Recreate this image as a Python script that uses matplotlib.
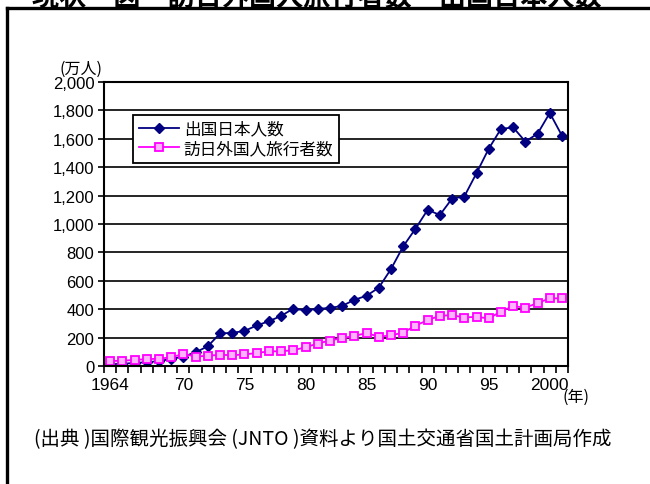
import matplotlib
matplotlib.use("Agg")
import matplotlib.pyplot as plt
from matplotlib.lines import Line2D
import numpy as np

plt.rcParams['font.family'] = ['Liberation Sans', 'Noto Sans CJK JP', 'DejaVu Sans']

# data (unit: 10,000 people)
years = list(range(1964, 2002))
outbound = [12.8, 15.9, 21.2, 26.8, 34.4, 49.3, 66.3, 96.1, 139.2, 228.9,
            233.6, 246.6, 285.3, 315.1, 352.6, 403.8, 390.9, 402.9, 408.6, 423.3,
            465.9, 494.8, 551.6, 682.9, 842.7, 966.3, 1099.7, 1063.4, 1179.1, 1193.4,
            1357.9, 1529.8, 1669.5, 1680.3, 1580.6, 1635.8, 1781.9, 1621.6]
inbound = [35.3, 36.7, 43.3, 47.7, 51.9, 60.9, 85.4, 66.0, 72.4, 78.5,
           76.4, 81.2, 91.5, 102.8, 103.8, 111.3, 131.7, 158.3, 179.3, 196.8,
           211.0, 232.7, 206.2, 215.5, 235.5, 283.5, 323.6, 353.3, 358.2, 341.0,
           346.8, 334.5, 383.7, 421.8, 410.6, 443.8, 475.7, 477.2]
tick_years = [1964, 1970, 1975, 1980, 1985, 1990, 1995, 2000]
tick_labels = ['1964', '70', '75', '80', '85', '90', '95', '2000']
label_out = '出国日本人数'
label_in = '訪日外国人旅行者数'

fig = plt.figure(figsize=(6.5, 4.85), dpi=100)
ax = fig.add_axes([0.16, 0.2433, 0.714, 0.5856])

ax.plot(years, outbound, color='#000080', marker='D', ms=5.5, lw=1.3,
        label=label_out)
ax.plot(years, inbound, color='#FF00FF', marker='s', ms=5.5, lw=1.3,
        mfc='#ffb3ff', mec='#FF00FF', mew=1.3, label=label_in)

ax.set_xlim(1963.5, 2001.5)
ax.set_ylim(0, 2000)
ax.set_yticks(np.arange(0, 2001, 200))
ax.set_yticklabels([f'{v:,}' for v in range(0, 2001, 200)])
ax.yaxis.grid(True, color='black', lw=1.2)
ax.set_axisbelow(True)

ax.set_xticks(tick_years)
ax.set_xticklabels(tick_labels)
ax.set_xticks(np.arange(1963.5, 2002, 1), minor=True)
ax.tick_params(axis='x', which='major', length=0, pad=8, labelsize=12.5)
ax.tick_params(axis='x', which='minor', length=5, width=1.2, direction='out')
ax.tick_params(axis='y', length=4, width=1.2, direction='out', labelsize=12, pad=3)
for s in ax.spines.values():
    s.set_linewidth(1.5)

leg = ax.legend(loc='upper left', bbox_to_anchor=(0.0625, 0.884), borderaxespad=0,
                fancybox=False, edgecolor='black', framealpha=1,
                prop={'family': ['Noto Sans CJK JP'], 'size': 12},
                handlelength=2.4, handletextpad=0.3, borderpad=0.35,
                labelspacing=0.15)
leg.get_frame().set_linewidth(1.3)

fig.text(0.092, 0.848, '(万人)', fontsize=11.5, family=['Noto Sans CJK JP'])
fig.text(0.866, 0.172, '(年)', fontsize=11.5, family=['Noto Sans CJK JP'])
fig.text(0.053, 0.083, '(出典 )国際観光振興会 (JNTO )資料より国土交通省国土計画局作成',
         fontsize=14, family=['Noto Sans CJK JP'])

# title cut off at the top edge, as in the source page, and page frame
fig.text(0.488, 0.977, '現状　図　訪日外国人旅行者数・出国日本人数', ha='center',
         va='bottom', fontsize=19.5, fontweight='bold', family=['Noto Sans CJK JP'])
fig.add_artist(Line2D([0.011, 0.011], [0.0, 0.981], transform=fig.transFigure,
                      color='black', lw=2.4))
fig.add_artist(Line2D([0.011, 1.0], [0.981, 0.981], transform=fig.transFigure,
                      color='black', lw=2.4))

fig.savefig('out.png', dpi=100)
